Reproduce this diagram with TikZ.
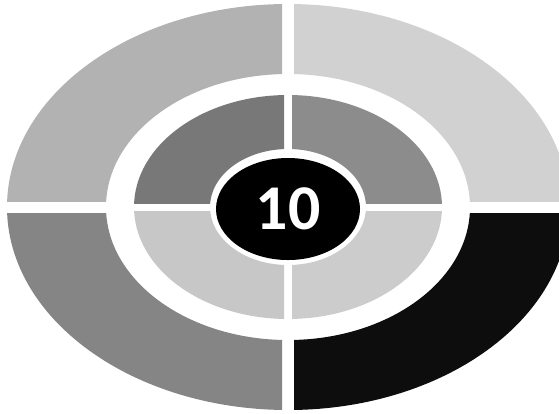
\documentclass[tikz,border=0pt]{standalone}
\usepackage{fontspec}
\setsansfont{Carlito}
\usepackage{xcolor}
\usetikzlibrary{shapes.geometric}

% quadrant shades
\definecolor{outerNW}{gray}{0.70}
\definecolor{outerNE}{gray}{0.82}
\definecolor{outerSW}{gray}{0.52}
\definecolor{outerSE}{gray}{0.05}
\definecolor{innerNW}{gray}{0.47}
\definecolor{innerNE}{gray}{0.55}
\definecolor{innerSW}{gray}{0.78}
\definecolor{innerSE}{gray}{0.80}

\begin{document}
\begin{tikzpicture}[
    x=1bp, y=-1bp,
    font=\sffamily\bfseries,
    ring/.style={
      even odd rule
    },
    core/.style={
      ellipse,
      fill=black,
      text=white,
      inner sep=0pt,
      minimum width=144bp,
      minimum height=102bp,
      font=\sffamily\bfseries\fontsize{64}{64}\selectfont
    }
  ]

    \useasboundingbox (0,0) rectangle (559,413);

    \begin{scope}[shift={(288,207)}]
      % Outer ring
      \foreach \sx/\sy/\shade in {-1/-1/outerNW, 1/-1/outerNE, -1/1/outerSW, 1/1/outerSE} {
        \begin{scope}
          \clip (\sx*6,\sy*6) rectangle (\sx*320,\sy*320);
          \fill[ring, \shade] (0,0) ellipse [x radius=281bp, y radius=203bp]
                              (0,0) ellipse [x radius=182bp, y radius=133bp];
        \end{scope}
      }

      % Inner ring
      \foreach \sx/\sy/\shade in {-1/-1/innerNW, 1/-1/innerNE, -1/1/innerSW, 1/1/innerSE} {
        \begin{scope}
          \clip (\sx*4,\sy*4) rectangle (\sx*200,\sy*200);
          \fill[ring, \shade] (0,0) ellipse [x radius=154bp, y radius=112bp]
                              (0,0) ellipse [x radius=78bp, y radius=58bp];
        \end{scope}
      }

      % Centre
      \node[core] (ten) at (0,2) {10};
    \end{scope}

  \end{tikzpicture}
\end{document}
